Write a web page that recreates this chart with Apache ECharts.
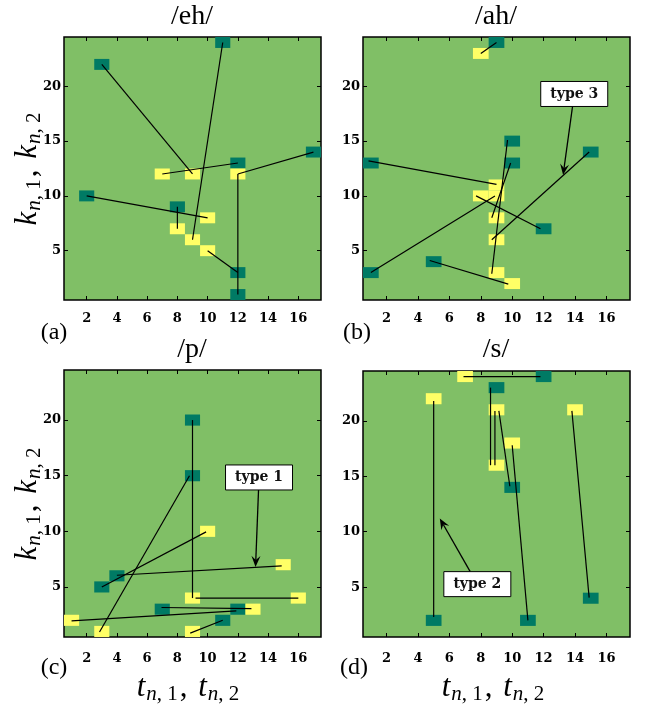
<!DOCTYPE html>
<html><head><meta charset="utf-8">
<script src="https://cdn.jsdelivr.net/npm/echarts@6/dist/echarts.min.js"></script>
<style>html,body{margin:0;padding:0;background:#fff}#c{width:653px;height:704px}</style>
</head><body><div id="c"></div>
<script>
// ---- data ----
const xTicks = [2, 4, 6, 8, 10, 12, 14, 16];
const yTicks = [5, 10, 15, 20];
const panelTitles = ['/eh/', '/ah/', '/p/', '/s/'];
const panelTags = ['(a)', '(b)', '(c)', '(d)'];

// /eh/
const ehTeal = [[3,22],[12,13],[17,14],[12,1],[2,10],[8,9],[11,24],[12,3]];
const ehYellow = [[9,12],[7,12],[12,12],[10,8],[8,7],[9,6],[10,5]];
const ehLinks = [[3,22,9,12],[12,13,7,12],[17,14,12,12],[12,1,12,12],[2,10,10,8],[8,9,8,7],[11,24,9,6],[12,3,10,5]];

// /ah/
const ahTeal = [[9,24],[10,15],[10,13],[1,13],[15,14],[12,7],[5,4],[1,3]];
const ahYellow = [[8,23],[9,11],[8,10],[9,10],[9,8],[9,6],[9,3],[10,2]];
const ahLinks = [[9,24,8,23],[0.85,13.2,9,11.05],[1,3,8.9,10],[7.7,10,11.8,7],[9.7,15.1,8.7,2.9],[9.9,13,8.7,8],[14.9,14,8.7,6],[4.75,4.1,9.75,1.95]];

// /p/
const pTeal = [[9,20],[9,15],[4,6],[3,5],[7,3],[12,3],[11,2]];
const pYellow = [[10,10],[15,7],[9,4],[16,4],[13,3],[1,2],[3,1],[9,1]];
const pLinks = [[9,20,9,4],[8.8,15,2.85,0.95],[3,5,9.9,9.95],[4,6.05,14.9,6.9],[9.2,4,16,4],[6.95,3.15,12.9,3.05],[11.9,2.85,1,1.95],[11,2,8.85,0.85]];

// /s/
const sTeal = [[12,24],[9,23],[10,14],[15,4],[5,2],[11,2]];
const sYellow = [[7,24],[5,22],[9,21],[14,21],[10,18],[9,16]];
const sLinks = [[6.9,24,11.8,24],[8.62,23,8.62,16],[8.9,20.9,8.9,16],[9.15,20.9,9.85,14.1],[10,17.8,11,2],[5,21.8,5,2.3],[13.8,20.9,14.9,4.05]];

// annotations: [boxX, boxY, tipX, tipY]
const noteText = [null, 'type 3', 'type 1', 'type 2'];
const notePos = [null, [13.95, 19.3, 13.24, 11.9], [13.4, 14.84, 13.17, 6.8], [7.78, 5.27, 5.39, 11.2]];

// ---- styles / layout ----
const GREEN = '#80BF66', TEAL = '#007A64', YELLOW = '#FFFF66';
const grids = [
  {left: 64, top: 37, width: 257, height: 263},
  {left: 363, top: 37, width: 267, height: 263},
  {left: 64, top: 370, width: 257, height: 267},
  {left: 363, top: 371, width: 267, height: 266}
];
const panels = [
  {teal: ehTeal, yellow: ehYellow, links: ehLinks},
  {teal: ahTeal, yellow: ahYellow, links: ahLinks},
  {teal: pTeal, yellow: pYellow, links: pLinks},
  {teal: sTeal, yellow: sYellow, links: sLinks}
];
const tickFont = {fontFamily: 'DejaVu Serif', fontWeight: 'bold', fontSize: 13, color: '#000'};

const chart = echarts.init(document.getElementById('c'), null, {renderer: 'canvas'});

const gridOpts = [], xAxes = [], yAxes = [], series = [];
grids.forEach((g, i) => {
  gridOpts.push(Object.assign({show: true, backgroundColor: GREEN, borderColor: '#000', borderWidth: 1.5}, g));
  const tick = {show: true, inside: true, length: 4, lineStyle: {color: '#000', width: 1}};
  const bottomMargin = i < 2 ? 12 : 15;
  xAxes.push({type: 'value', gridIndex: i, min: 0.5, max: 17.5, position: 'bottom',
    axisLine: {show: false}, splitLine: {show: false},
    axisTick: Object.assign({customValues: xTicks}, tick),
    axisLabel: Object.assign({customValues: xTicks, margin: bottomMargin}, tickFont)});
  xAxes.push({type: 'value', gridIndex: i, min: 0.5, max: 17.5, position: 'top',
    axisLine: {show: false}, splitLine: {show: false},
    axisTick: Object.assign({customValues: xTicks}, tick), axisLabel: {show: false}});
  yAxes.push({type: 'value', gridIndex: i, min: 0.5, max: 24.5, position: 'left',
    axisLine: {show: false}, splitLine: {show: false},
    axisTick: Object.assign({customValues: yTicks}, tick),
    axisLabel: Object.assign({customValues: yTicks, margin: 3}, tickFont)});
  yAxes.push({type: 'value', gridIndex: i, min: 0.5, max: 24.5, position: 'right',
    axisLine: {show: false}, splitLine: {show: false},
    axisTick: Object.assign({customValues: yTicks}, tick), axisLabel: {show: false}});

  const p = panels[i];
  const cellRender = (color) => (params, api) => {
    const c = api.coord([api.value(0), api.value(1)]);
    const s = api.size([1, 1]);
    return {type: 'rect', shape: {x: c[0] - s[0] / 2, y: c[1] - s[1] / 2, width: s[0], height: s[1]},
      style: {fill: color}};
  };
  series.push({type: 'custom', xAxisIndex: 2 * i, yAxisIndex: 2 * i, data: p.teal,
    renderItem: cellRender(TEAL), silent: true, z: 2});
  series.push({type: 'custom', xAxisIndex: 2 * i, yAxisIndex: 2 * i, data: p.yellow,
    renderItem: cellRender(YELLOW), silent: true, z: 3});
  series.push({type: 'custom', xAxisIndex: 2 * i, yAxisIndex: 2 * i, data: p.links,
    encode: {x: [0, 2], y: [1, 3]}, silent: true, z: 4,
    renderItem: (params, api) => {
      const a = api.coord([api.value(0), api.value(1)]);
      const b = api.coord([api.value(2), api.value(3)]);
      return {type: 'line', shape: {x1: a[0], y1: a[1], x2: b[0], y2: b[1]},
        style: {stroke: '#000', lineWidth: 1.2}};
    }});
  if (notePos[i]) {
    const txt = noteText[i];
    series.push({type: 'custom', xAxisIndex: 2 * i, yAxisIndex: 2 * i, data: [notePos[i]],
      encode: {x: [0, 2], y: [1, 3]}, silent: true, z: 5,
      renderItem: (params, api) => {
        const b = api.coord([api.value(0), api.value(1)]);
        const t = api.coord([api.value(2), api.value(3)]);
        const w = 67, h = 25;
        const dx = t[0] - b[0], dy = t[1] - b[1];
        const sx = Math.abs(dx) > 1e-6 ? (w / 2) / Math.abs(dx) : Infinity;
        const sy = Math.abs(dy) > 1e-6 ? (h / 2) / Math.abs(dy) : Infinity;
        const s = Math.min(sx, sy);
        const st = [b[0] + dx * s, b[1] + dy * s];
        const ang = Math.atan2(dy, dx);
        const ux = Math.cos(ang), uy = Math.sin(ang);
        const L = 11, W = 4.5, N = 7;
        const p1 = [t[0] - ux * L - uy * W, t[1] - uy * L + ux * W];
        const p2 = [t[0] - ux * L + uy * W, t[1] - uy * L - ux * W];
        const pn = [t[0] - ux * N, t[1] - uy * N];
        return {type: 'group', children: [
          {type: 'line', shape: {x1: st[0], y1: st[1], x2: pn[0], y2: pn[1]}, style: {stroke: '#000', lineWidth: 1.3}},
          {type: 'polygon', shape: {points: [t, p1, pn, p2]}, style: {fill: '#000'}},
          {type: 'rect', shape: {x: b[0] - w / 2, y: b[1] - h / 2, width: w, height: h},
            style: {fill: '#fff', stroke: '#000', lineWidth: 1}},
          {type: 'text', x: b[0], y: b[1], style: {text: txt, font: 'bold 14px "DejaVu Serif"',
            align: 'center', verticalAlign: 'middle', fill: '#111'}}
        ]};
      }});
  }
});

// static texts
const titleFont = '28px "Liberation Serif"';
const tagFont = '24px "Liberation Serif"';
const graphics = [];
const titleCenters = [[192, 17], [496, 17], [192, 350], [496, 350]];
const tagCenters = [[54, 333], [357, 333], [54, 668], [354, 668]];
panelTitles.forEach((t, i) => graphics.push({type: 'text', x: titleCenters[i][0], y: titleCenters[i][1],
  style: {text: t, font: titleFont, align: 'center', verticalAlign: 'middle', fill: '#000'}}));
panelTags.forEach((t, i) => graphics.push({type: 'text', x: tagCenters[i][0], y: tagCenters[i][1],
  style: {text: t, font: tagFont, align: 'center', verticalAlign: 'middle', fill: '#000'}}));

const mathRich = {
  m: {fontFamily: 'Liberation Serif', fontStyle: 'italic', fontSize: 31, lineHeight: 34, verticalAlign: 'middle'},
  c: {fontFamily: 'Liberation Serif', fontSize: 31, lineHeight: 34, verticalAlign: 'middle', padding: [0, 3, 0, 0]},
  si: {fontFamily: 'Liberation Serif', fontStyle: 'italic', fontSize: 21, lineHeight: 17, verticalAlign: 'bottom', padding: [0, 0, 0, 1]},
  sn: {fontFamily: 'Liberation Serif', fontSize: 21, lineHeight: 17, verticalAlign: 'bottom', padding: [0, 2, 0, 0]}
};
const yName = '{m|k}{si|n}{sn|, 1}{c|, }{m|k}{si|n}{sn|, 2}';
const xName = '{m|t}{si|n}{sn|, 1}{c|, }{m|t}{si|n}{sn|, 2}';
[[28, 168], [28, 503]].forEach(pos => graphics.push({type: 'text', x: pos[0], y: pos[1], rotation: Math.PI / 2,
  style: {text: yName, rich: mathRich, align: 'center', verticalAlign: 'middle', fill: '#000'}}));
[[189, 688], [494, 688]].forEach(pos => graphics.push({type: 'text', x: pos[0], y: pos[1],
  style: {text: xName, rich: mathRich, align: 'center', verticalAlign: 'middle', fill: '#000'}}));

chart.setOption({
  animation: false,
  backgroundColor: '#fff',
  grid: gridOpts,
  xAxis: xAxes,
  yAxis: yAxes,
  series: series,
  graphic: graphics
});
</script>
</body></html>
